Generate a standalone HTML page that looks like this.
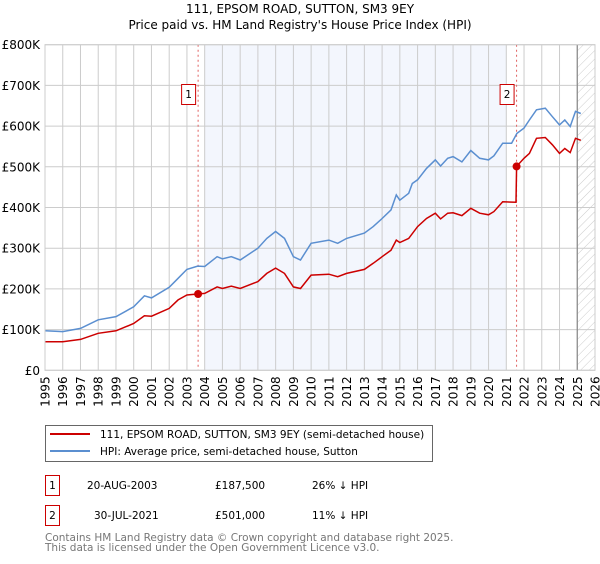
<!DOCTYPE html>
<html><head><meta charset="utf-8"><style>
body{margin:0;background:#fff;font-family:"DejaVu Sans","Liberation Sans",sans-serif;}
svg text{font-family:"DejaVu Sans","Liberation Sans",sans-serif;}
</style></head><body>
<svg id="chart" width="600" height="560" viewBox="0 0 600 560">
<defs><pattern id="hatch" width="6" height="6" patternUnits="userSpaceOnUse" patternTransform="rotate(45)"><line x1="0" y1="0" x2="0" y2="6" stroke="#ccc" stroke-width="1"/></pattern></defs>
<text x="300" y="13" text-anchor="middle" font-size="12">111, EPSOM ROAD, SUTTON, SM3 9EY</text>
<text x="300" y="29" text-anchor="middle" font-size="12">Price paid vs. HM Land Registry's House Price Index (HPI)</text>
<g id="plot"></g>
<g>
<rect x="45.5" y="425.5" width="387" height="36" fill="#fff" stroke="#666"/>
<line x1="50" y1="434" x2="90" y2="434" stroke="#cc0000" stroke-width="2"/>
<text x="100" y="438" font-size="10.5">111, EPSOM ROAD, SUTTON, SM3 9EY (semi-detached house)</text>
<line x1="50" y1="451" x2="90" y2="451" stroke="#5b8fd0" stroke-width="2"/>
<text x="100" y="455" font-size="10.5">HPI: Average price, semi-detached house, Sutton</text>
</g>
<g font-size="10.5">
<rect x="45.5" y="475.5" width="14" height="20" fill="#fff" stroke="#cc0000"/>
<text x="52.5" y="489" text-anchor="middle">1</text>
<text x="87" y="489">20-AUG-2003</text><text x="215" y="489">£187,500</text><text x="312" y="489">26% ↓ HPI</text>
<rect x="45.5" y="505.5" width="14" height="20" fill="#fff" stroke="#cc0000"/>
<text x="52.5" y="519" text-anchor="middle">2</text>
<text x="94" y="519">30-JUL-2021</text><text x="215" y="519">£501,000</text><text x="312" y="519">11% ↓ HPI</text>
</g>
<text x="45" y="541" font-size="10.5" fill="#777">Contains HM Land Registry data © Crown copyright and database right 2025.</text>
<text x="45" y="551" font-size="10.5" fill="#777">This data is licensed under the Open Government Licence v3.0.</text>
</svg>
<script>
const hpiYears=[1995,1996,1997,1998,1999,2000,2000.6,2001,2002,2002.5,2003,2003.6,2004,2004.7,2005,2005.5,2006,2007,2007.5,2008,2008.5,2009,2009.4,2010,2011,2011.5,2012,2013,2013.5,2014,2014.5,2014.8,2015,2015.5,2015.7,2016,2016.5,2017,2017.3,2017.7,2018,2018.5,2019,2019.5,2020,2020.3,2020.8,2021.3,2021.6,2022,2022.3,2022.7,2023.2,2023.6,2024,2024.3,2024.6,2024.9,2025.2];
const hpiValues=[97,95,103,124,132,156,183,178,204,226,248,256,255,279,274,279,271,300,324,341,324,279,271,312,320,312,324,337,353,373,394,431,418,435,459,468,496,517,502,521,525,512,540,521,517,527,558,558,582,595,615,640,644,623,603,615,599,636,631];
const priceYears=[1995,1996,1997,1998,1999,2000,2000.6,2001,2002,2002.5,2003,2003.6,2004,2004.7,2005,2005.5,2006,2007,2007.5,2008,2008.5,2009,2009.4,2010,2011,2011.5,2012,2013,2013.5,2014,2014.5,2014.8,2015,2015.5,2016,2016.5,2017,2017.3,2017.7,2018,2018.5,2019,2019.5,2020,2020.3,2020.8,2021.55,2021.58,2022,2022.3,2022.7,2023.2,2023.6,2024,2024.3,2024.6,2024.9,2025.2];
const priceValues=[70,70,76,91,97,115,134,133,152,173,185,187.5,189,205,201,207,201,218,238,251,238,205,201,234,236,230,238,248,263,279,295,320,314,324,353,373,386,372,386,387,380,398,386,382,390,414,413,501,521,533,570,572,554,533,545,535,570,565];
const saleYears=[2003.63,2021.58];
const saleValues=[187.5,501];
const saleLabels=["1","2"];
const yTicks=[0,100,200,300,400,500,600,700,800];
const yTickLabels=["£0","£100K","£200K","£300K","£400K","£500K","£600K","£700K","£800K"];
const xTicks=[1995,1996,1997,1998,1999,2000,2001,2002,2003,2004,2005,2006,2007,2008,2009,2010,2011,2012,2013,2014,2015,2016,2017,2018,2019,2020,2021,2022,2023,2024,2025,2026];
const X0=45,X1=595,Y0=370.3,Y1=44.7;
const x=y=>X0+(y-1995)*(X1-X0)/31;
const yv=v=>Y0-v*(Y0-Y1)/800;
const NS="http://www.w3.org/2000/svg";
const g=document.getElementById('plot');
function mk(t,a,p){const e=document.createElementNS(NS,t);for(const k in a)e.setAttribute(k,a[k]);(p||g).appendChild(e);return e;}
let r=mk('rect',{x:x(2004),y:Y1,width:x(2021)-x(2004),height:Y0-Y1,fill:'#f3f6fd'});


let h=mk('rect',{x:x(2025),y:Y1,width:X1-x(2025),height:Y0-Y1,fill:'url(#hatch)'});


xTicks.forEach(t=>{
 let l=mk('line',{x1:x(t),x2:x(t),y1:Y1,y2:Y0,stroke:'#ccc','stroke-width':1});
 
 
 let tx=mk('text',{x:0,y:0,'font-size':12,'text-anchor':'end',transform:`translate(${x(t)+4.5},${Y0+6}) rotate(-90)`});
 tx.textContent=t;
 
 
});
yTicks.forEach((t,i)=>{
 let l=mk('line',{x1:X0,x2:X1,y1:yv(t),y2:yv(t),stroke:'#ccc','stroke-width':1});
 
 
 let tx=mk('text',{x:40,y:yv(t)+4.5,'font-size':12,'text-anchor':'end'});
 tx.textContent=yTickLabels[i];
 
 
});
let vl=mk('line',{x1:x(2025),x2:x(2025),y1:Y1,y2:Y0,stroke:'#888','stroke-width':1.2});


saleYears.forEach((s,i)=>{
 let l=mk('line',{x1:x(s),x2:x(s),y1:Y1,y2:Y0,stroke:'#e06060','stroke-width':1,'stroke-dasharray':'2,3'});
 
 
});
function path(xs,vs,c,name){
 let d=xs.map((t,i)=>(i?'L':'M')+x(t).toFixed(1)+','+yv(vs[i]).toFixed(1)).join('');
 let p=mk('path',{d:d,fill:'none',stroke:c,'stroke-width':1.5});
 
 
}
path(hpiYears,hpiValues,'#5b8fd0','hpi-line');
path(priceYears,priceValues,'#cc0000','price-line');
saleYears.forEach((s,i)=>{
 let c=mk('circle',{cx:x(s),cy:yv(saleValues[i]),r:4,fill:'#cc0000'});
 
 
 let b=mk('rect',{x:x(s)-16.5,y:84.5,width:14,height:20,fill:'#fff',stroke:'#cc0000'});
 
 
 let t=mk('text',{x:x(s)-9.5,y:98,'font-size':10.5,'text-anchor':'middle'});
 t.textContent=saleLabels[i];
 
 
});
let fr=mk('rect',{x:X0,y:Y1,width:X1-X0,height:Y0-Y1,fill:'none',stroke:'#ccc'});


</script>
</body></html>
